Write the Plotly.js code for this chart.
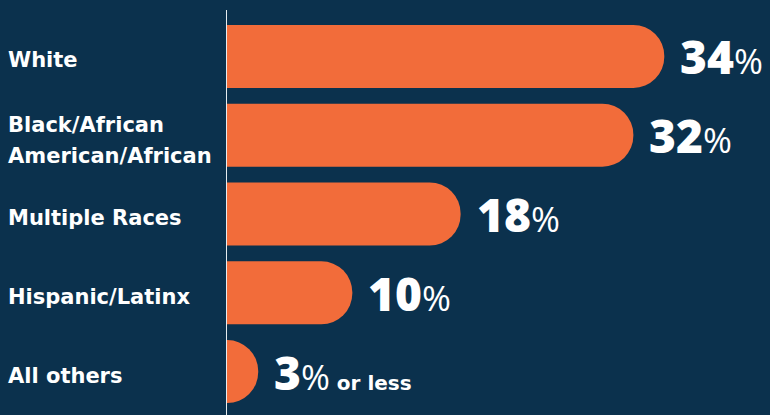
<!DOCTYPE html>
<html><head><meta charset="utf-8">
<script src="https://cdn.plot.ly/plotly-3.0.1.min.js"></script>
<style>html,body{margin:0;padding:0;background:#0b314d;}</style>
</head><body><div id="chart" style="width:770px;height:415px;"></div>
<script>
const categories = ["White", "Black/African<br>American/African", "Multiple Races", "Hispanic/Latinx", "All others"];
const values = [34, 31.6, 18.2, 9.8, 2.5];
const valueNumbers = ["34", "32", "18", "10", "3"];
const valueSuffixes = ["", "", "", "", " or less"];

const BG = "#0b314d";
const ORANGE = "#f26c3a";
const LABEL_FONT = "'DejaVu Sans', 'Open Sans', sans-serif";
const NUM_FONT = "'Open Sans', Lato, sans-serif";

const annotations = [];
categories.forEach((cat, i) => {
  const lines = cat.split("<br>");
  const n = lines.length;
  lines.forEach((ln, j) => {
    annotations.push({
      x: 0, xref: "paper", xanchor: "left", xshift: -220,
      y: cat, yref: "y", yanchor: "middle",
      yshift: -4 - (j - (n - 1) / 2) * 31.5 - (n > 1 ? 1.5 : 0),
      text: ln, showarrow: false, align: "left",
      font: {family: LABEL_FONT, size: 21, color: "#ffffff", weight: 700}
    });
  });
  let t = '<span style="font-weight:800">' + valueNumbers[i] + '</span>' +
          '<span style="font-size:35px;font-weight:400">%</span>';
  if (valueSuffixes[i]) {
    t += '<span style="font-size:20px;font-weight:700;font-family:\'DejaVu Sans\'">' + valueSuffixes[i] + '</span>';
  }
  annotations.push({
    x: values[i], xref: "x", xanchor: "left", xshift: 14,
    y: cat, yref: "y", yanchor: "middle", yshift: 0,
    text: t, showarrow: false, align: "left",
    font: {family: NUM_FONT, size: 46, color: "#ffffff", weight: 800}
  });
});

const trace = {
  type: "bar", orientation: "h",
  x: values, y: categories,
  marker: {color: ORANGE, cornerradius: "50%", line: {width: 0}},
  hoverinfo: "none"
};

const layout = {
  width: 770, height: 415,
  margin: {l: 226, r: 0, t: 17, b: 4, pad: 0},
  paper_bgcolor: BG, plot_bgcolor: BG,
  bargap: 0.2,
  showlegend: false,
  xaxis: {range: [0, 42.2], visible: false, fixedrange: true},
  yaxis: {type: "category", autorange: "reversed", showticklabels: false,
          showgrid: false, zeroline: false, showline: false, ticks: "", fixedrange: true},
  shapes: [{
    type: "line", xref: "x", yref: "paper",
    x0: 0, x1: 0, y0: -0.02, y1: 1.018,
    line: {color: "#e6ecf0", width: 2}, layer: "above"
  }],
  annotations: annotations
};

Plotly.newPlot("chart", [trace], layout, {displayModeBar: false, staticPlot: true});
</script>
</body></html>
